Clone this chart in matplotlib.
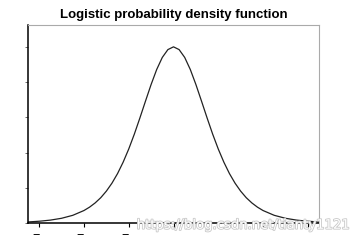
import matplotlib
matplotlib.use("Agg")
import matplotlib.pyplot as plt
import matplotlib.patheffects as pe

# values
x_vals = [-6.5, -6.0, -5.5, -5.0, -4.5, -4.0, -3.75, -3.5, -3.25, -3.0, -2.75, -2.5,
          -2.25, -2.0, -1.75, -1.5, -1.25, -1.0, -0.75, -0.5, -0.25, 0.0,
          0.25, 0.5, 0.75, 1.0, 1.25, 1.5, 1.75, 2.0, 2.25, 2.5, 2.75, 3.0,
          3.25, 3.5, 3.75, 4.0, 4.5, 5.0, 5.5, 6.0, 6.5]
pdf_vals = [0.0015, 0.0025, 0.0041, 0.0067, 0.0109, 0.0177, 0.0225, 0.0285, 0.0359, 0.0452, 0.0565, 0.0701,
            0.0863, 0.1050, 0.1261, 0.1492, 0.1731, 0.1966, 0.2179, 0.2350, 0.2461, 0.2500,
            0.2461, 0.2350, 0.2179, 0.1966, 0.1731, 0.1492, 0.1261, 0.1050, 0.0863, 0.0701, 0.0565, 0.0452,
            0.0359, 0.0285, 0.0225, 0.0177, 0.0109, 0.0067, 0.0041, 0.0025, 0.0015]
x_ticks = [-6, -4, -2, 0, 2, 4, 6]
# only the minus signs of the tick labels show in the reference
x_ticklabels = ["\u2212", "\u2212", "\u2212", "", "", "", ""]
y_ticks = [0, 0.05, 0.10, 0.15, 0.20, 0.25]

fig = plt.figure(figsize=(3.6, 2.43), dpi=100)
ax = fig.add_axes([28 / 360, 20 / 243, 291 / 360, 198 / 243])

ax.plot(x_vals, pdf_vals, color="#222222", lw=0.9)
ax.set_xlim(-6.5, 6.5)
ax.set_ylim(0, 0.281)

ax.set_xticks(x_ticks)
ax.set_xticklabels(x_ticklabels, family="Liberation Sans", ha="right")
ax.set_yticks(y_ticks)
ax.set_yticklabels([])
ax.tick_params(axis="x", direction="out", length=3, width=0.8, pad=2, labelsize=9)
ax.tick_params(axis="y", direction="out", length=2.5, width=0.6, color="#555555")

for side in ["top", "right"]:
    ax.spines[side].set_color("#aaaaaa")
    ax.spines[side].set_linewidth(0.8)
for side in ["left", "bottom"]:
    ax.spines[side].set_color("black")
    ax.spines[side].set_linewidth(1.1)

fig.text(0.483, 0.94, "Logistic probability density function", ha="center", va="center",
         fontsize=9.5, fontweight="bold", family="Liberation Sans")

fig.text(0.978, 0.073, "https://blog.csdn.net/tianty1121", ha="right", va="center",
         fontsize=9.5, color="white",
         path_effects=[pe.withStroke(linewidth=1.2, foreground="#c8c8c8")])

fig.savefig("out.png", dpi=100)
